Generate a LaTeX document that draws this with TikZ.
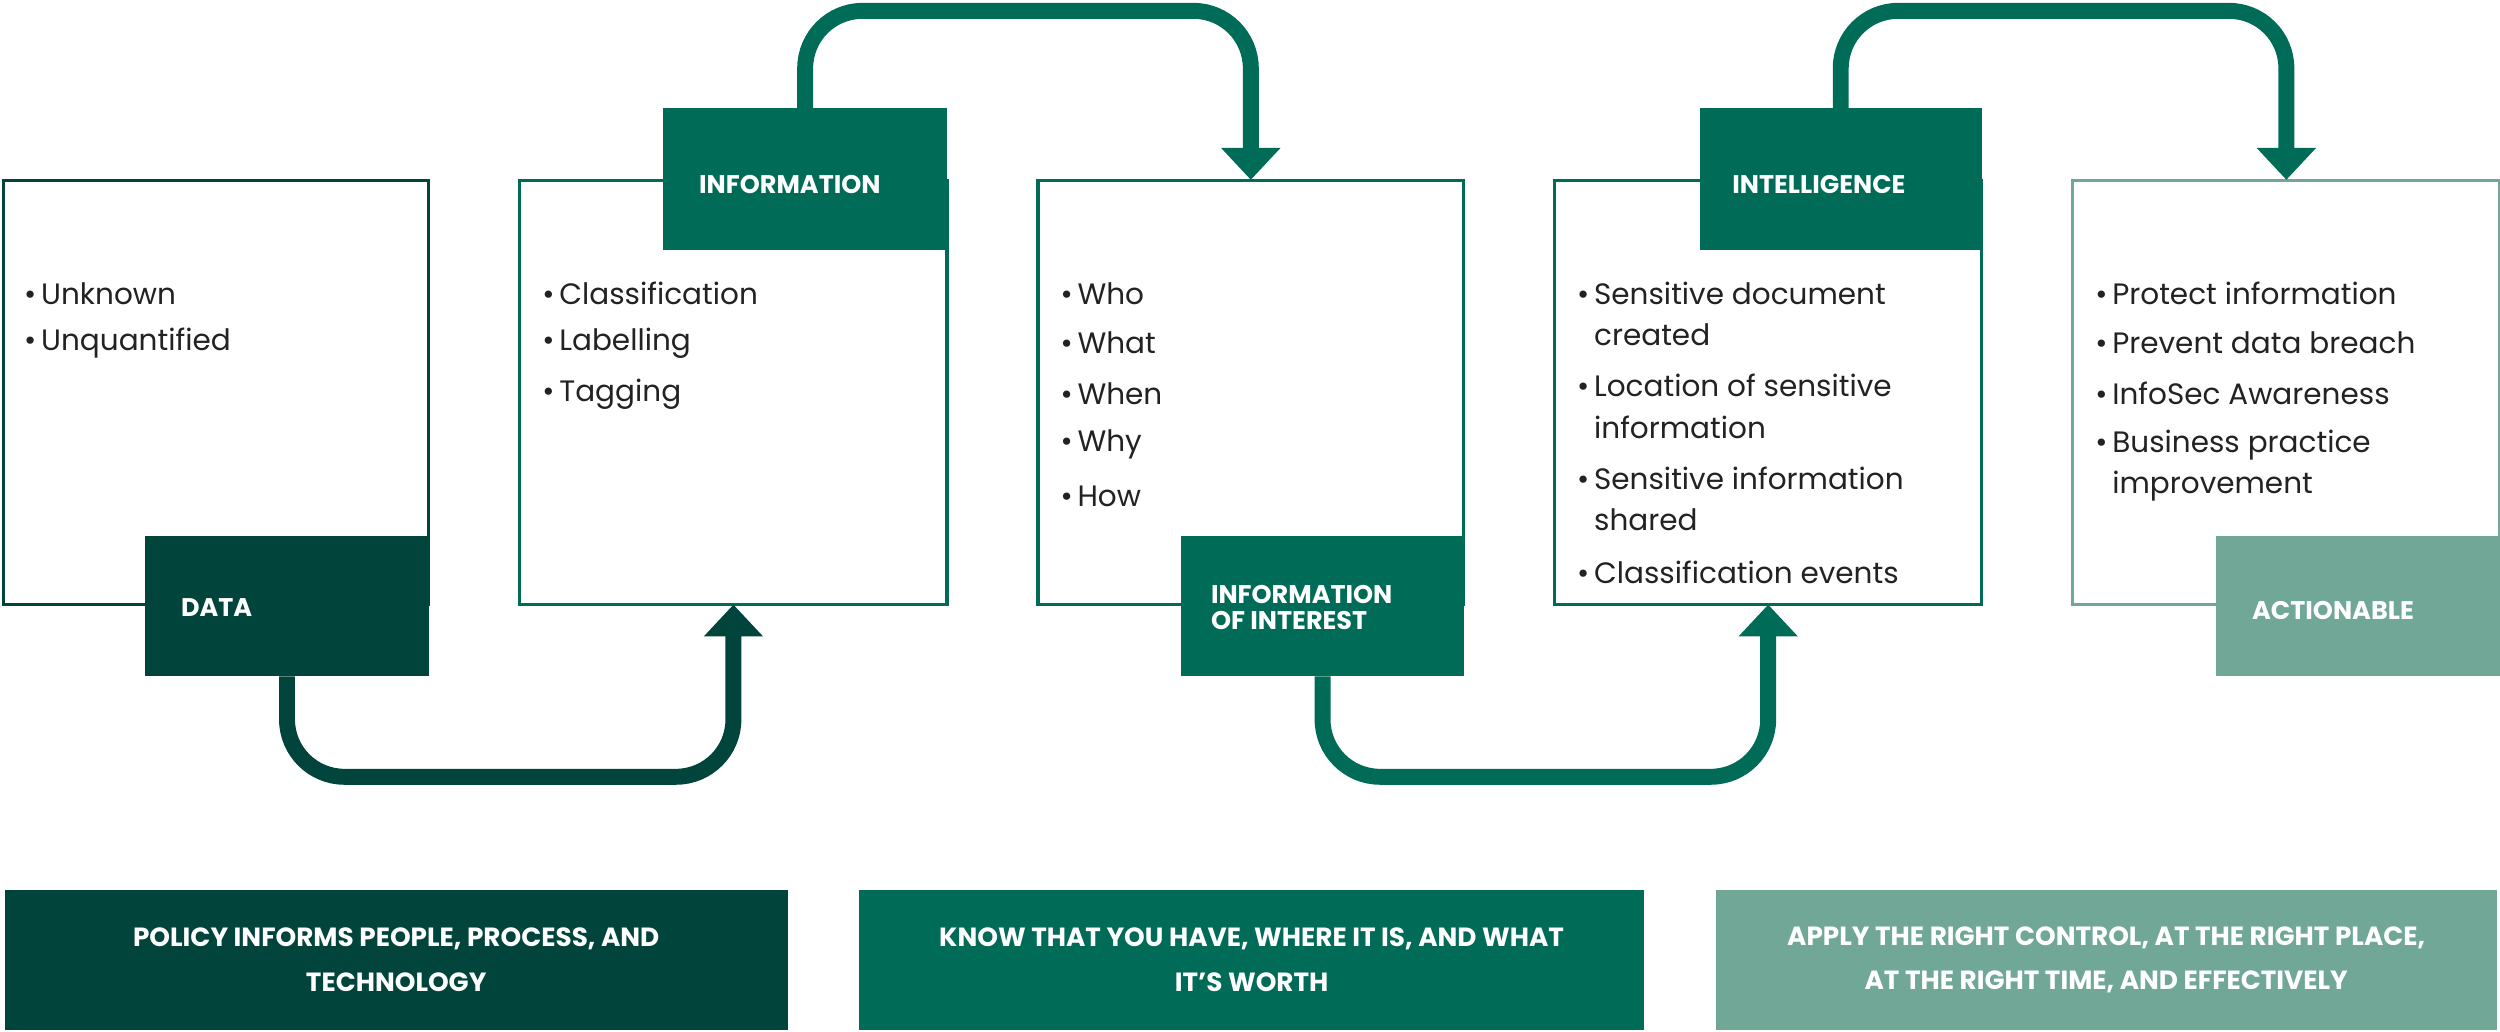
\documentclass[tikz,border=0pt]{standalone}
\usepackage{fontspec}
\setmainfont{Poppins}
\usetikzlibrary{arrows.meta,calc}
\definecolor{dk}{HTML}{00443C}
\definecolor{md}{HTML}{006B57}
\definecolor{lt}{HTML}{70A797}
\definecolor{tx}{HTML}{222222}
\begin{document}
\begin{tikzpicture}[x=1pt,y=-1pt,
  bx/.style={draw=#1,line width=2pt},
  lbl/.style={fill=#1,text=white,font=\fontsize{16}{20}\selectfont\bfseries,align=left,anchor=west},
  bul/.style={anchor=west,text=tx,font=\fontsize{18.5}{26}\selectfont,inner sep=0},
  arr/.style={draw=#1,line width=10pt,rounded corners=36pt,-{Triangle[width=36pt,length=20pt]}},
  ban/.style={fill=#1,text=white,font=\fontsize{16.5}{28}\selectfont\bfseries,align=center}]
\useasboundingbox (0,0) rectangle (1568,647);
% boxes
\path[bx=dk] (2,113) rectangle (269,379); \node (b1) at (135.5,246) [minimum width=267pt,minimum height=266pt]{};
\path[bx=md] (326,113) rectangle (594,379); \node (b2) at (460,246) [minimum width=268pt,minimum height=266pt]{};
\path[bx=md] (651,113) rectangle (918,379); \node (b3) at (784.5,246) [minimum width=267pt,minimum height=266pt]{};
\path[bx=md] (975,113) rectangle (1243,379); \node (b4) at (1109,246) [minimum width=268pt,minimum height=266pt]{};
\path[bx=lt] (1300,113) rectangle (1568,379); \node (b5) at (1434,246) [minimum width=268pt,minimum height=266pt]{};
% labels
\fill[dk] (91,336) rectangle (269,424); \node (l1) at (180,380) [minimum width=178pt,minimum height=88pt]{};
\node[lbl=dk,fill=none] (t1) at (110,381) {DATA};
\fill[md] (416,68) rectangle (594,157); \node (l2) at (505,112.5) [minimum width=178pt,minimum height=89pt]{};
\node[lbl=md,fill=none] (t2) at (435,116) {INFORMATION};
\fill[md] (741,336) rectangle (918,424); \node (l3) at (829.5,380) [minimum width=177pt,minimum height=88pt]{};
\node[lbl=md,fill=none] (t3) at (756,381) {INFORMATION\\[-4pt]OF INTEREST};
\fill[md] (1066,68) rectangle (1243,157); \node (l4) at (1154.5,112.5) [minimum width=177pt,minimum height=89pt]{};
\node[lbl=md,fill=none] (t4) at (1083,116) {INTELLIGENCE};
\fill[lt] (1390,336) rectangle (1568,424); \node (l5) at (1479,380) [minimum width=178pt,minimum height=88pt]{};
\node[lbl=lt,fill=none] (t5) at (1409,383) {ACTIONABLE};
% arrows
\draw[arr=dk] (l1.south) -- ++(0,63) -| (b2.south);
\draw[arr=md] (l2.north) -- ++(0,-61) -| (b3.north);
\draw[arr=md] (l3.south) -- ++(0,63) -| (b4.south);
\draw[arr=md] (l4.north) -- ++(0,-61) -| (b5.north);
% bullets
\newcommand\bl[4]{\node[bul] (#1) at (#2,#3) {•\hspace{3pt}#4};}
\newcommand\bc[4]{\node[bul] (#1) at (#2,#3) {\phantom{•}\hspace{3pt}#4};}
\bl{a1}{15}{184}{Unknown}
\bl{a2}{15}{215}{Unquantified}
\bl{c1}{340}{184}{Classification}
\bl{c2}{340}{215}{Labelling}
\bl{c3}{340}{247}{Tagging}
\bl{d1}{665}{184}{Who}
\bl{d2}{665}{215}{What}
\bl{d3}{665}{247}{When}
\bl{d4}{665}{279}{Why}
\bl{d5}{665}{311}{How}
\bl{e1}{989}{184}{Sensitive document}
\bc{e1b}{989}{210}{created}
\bl{e2}{989}{242}{Location of sensitive}
\bc{e2b}{989}{268}{information}
\bl{e3}{989}{300}{Sensitive information}
\bc{e3b}{989}{326}{shared}
\bl{e4}{989}{359}{Classification events}
\bl{f1}{1314}{184}{Protect information}
\bl{f2}{1314}{215}{Prevent data breach}
\bl{f3}{1314}{247}{InfoSec Awareness}
\bl{f4}{1314}{279}{Business practice}
\bc{f4b}{1314}{305}{improvement}
% banners
\node[ban=dk,minimum width=491pt,minimum height=88pt] (n1) at (248.5,602) {POLICY INFORMS PEOPLE, PROCESS, AND\\TECHNOLOGY};
\node[ban=md,minimum width=492pt,minimum height=88pt] (n2) at (785,602) {KNOW THAT YOU HAVE, WHERE IT IS, AND WHAT\\IT’S WORTH};
\node[ban=lt,minimum width=490pt,minimum height=88pt] (n3) at (1321,602) {APPLY THE RIGHT CONTROL, AT THE RIGHT PLACE,\\AT THE RIGHT TIME, AND EFFECTIVELY};
\end{tikzpicture}
\end{document}
